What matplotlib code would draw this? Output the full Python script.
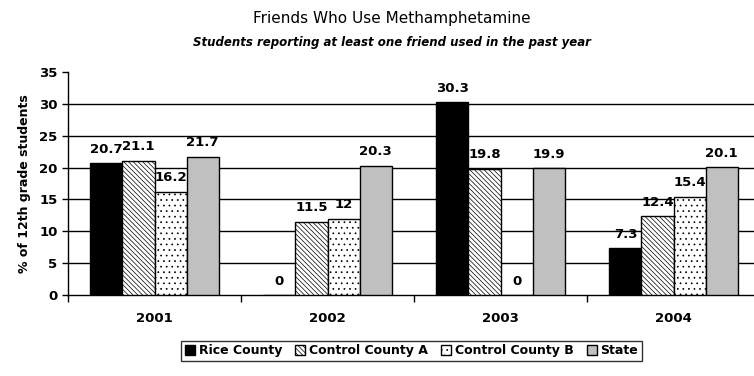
import matplotlib
matplotlib.use("Agg")
import matplotlib.pyplot as plt
import numpy as np

years = ["2001", "2002", "2003", "2004"]
series = ["Rice County", "Control County A", "Control County B", "State"]
rice = [20.7, 0, 30.3, 7.3]
county_a = [21.1, 11.5, 19.8, 12.4]
county_b = [16.2, 12, 0, 15.4]
state = [21.7, 20.3, 19.9, 20.1]
values = [rice, county_a, county_b, state]

faces = ["black", "white", "white", "#c0c0c0"]
hatches = [None, "\\\\\\\\\\\\\\", "...", None]

plt.rcParams["font.family"] = ["DejaVu Sans"]
plt.rcParams["font.weight"] = "bold"
plt.rcParams["hatch.linewidth"] = 0.5

fig = plt.figure(figsize=(7.54, 3.76), dpi=100)
ax = fig.add_axes([68 / 754, 81 / 376, 692 / 754, 223 / 376])

x = np.arange(len(years))
w = 0.185
for i, (vals, fc, h, name) in enumerate(zip(values, faces, hatches, series)):
    pos = x + (i - 1.5) * w
    ax.bar(pos, vals, width=w, color=fc, edgecolor="black", linewidth=1.0,
           hatch=h, label=name, zorder=3)
    for xp, v in zip(pos, vals):
        ax.annotate(f"{v:g}", (xp, v), xytext=(0, 10), textcoords="offset points",
                    ha="center", va="center", fontsize=9.5, fontweight="bold",
                    zorder=4)

ax.set_xlim(-0.5, len(years) - 0.5)
ax.set_ylim(0, 35)
ax.set_yticks(np.arange(0, 36, 5))
ax.tick_params(axis="y", labelsize=9.5, length=4, width=1)
for yv in range(5, 31, 5):
    ax.axhline(yv, color="black", linewidth=1.0, zorder=1)

ax.set_xticks(x)
ax.set_xticklabels(years, fontsize=9.5, fontweight="bold")
ax.tick_params(axis="x", length=0, pad=12)
ax.set_xticks(np.arange(-0.5, len(years) + 0.5, 1), minor=True)
ax.tick_params(axis="x", which="minor", length=5, width=1)

for s in ["top", "right"]:
    ax.spines[s].set_visible(False)
ax.spines["left"].set_linewidth(1.0)
ax.spines["bottom"].set_linewidth(1.0)

ax.set_ylabel("% of 12th grade students", fontsize=9, fontweight="bold", labelpad=6)

fig.text(0.52, 0.952, "Friends Who Use Methamphetamine", ha="center", va="center",
         fontsize=11, fontweight="medium")
fig.text(0.52, 0.886, "Students reporting at least one friend used in the past year",
         ha="center", va="center", fontsize=8.5, fontweight="bold", style="italic")

leg = fig.legend(loc="center", bbox_to_anchor=(0.546, 0.0665), ncol=4, frameon=True,
                 fancybox=False, edgecolor="black", fontsize=9,
                 handlelength=0.8, handleheight=0.8, handletextpad=0.3,
                 columnspacing=1.05, borderpad=0.3)
leg.get_frame().set_linewidth(1.0)

fig.savefig("out.png", dpi=100)
